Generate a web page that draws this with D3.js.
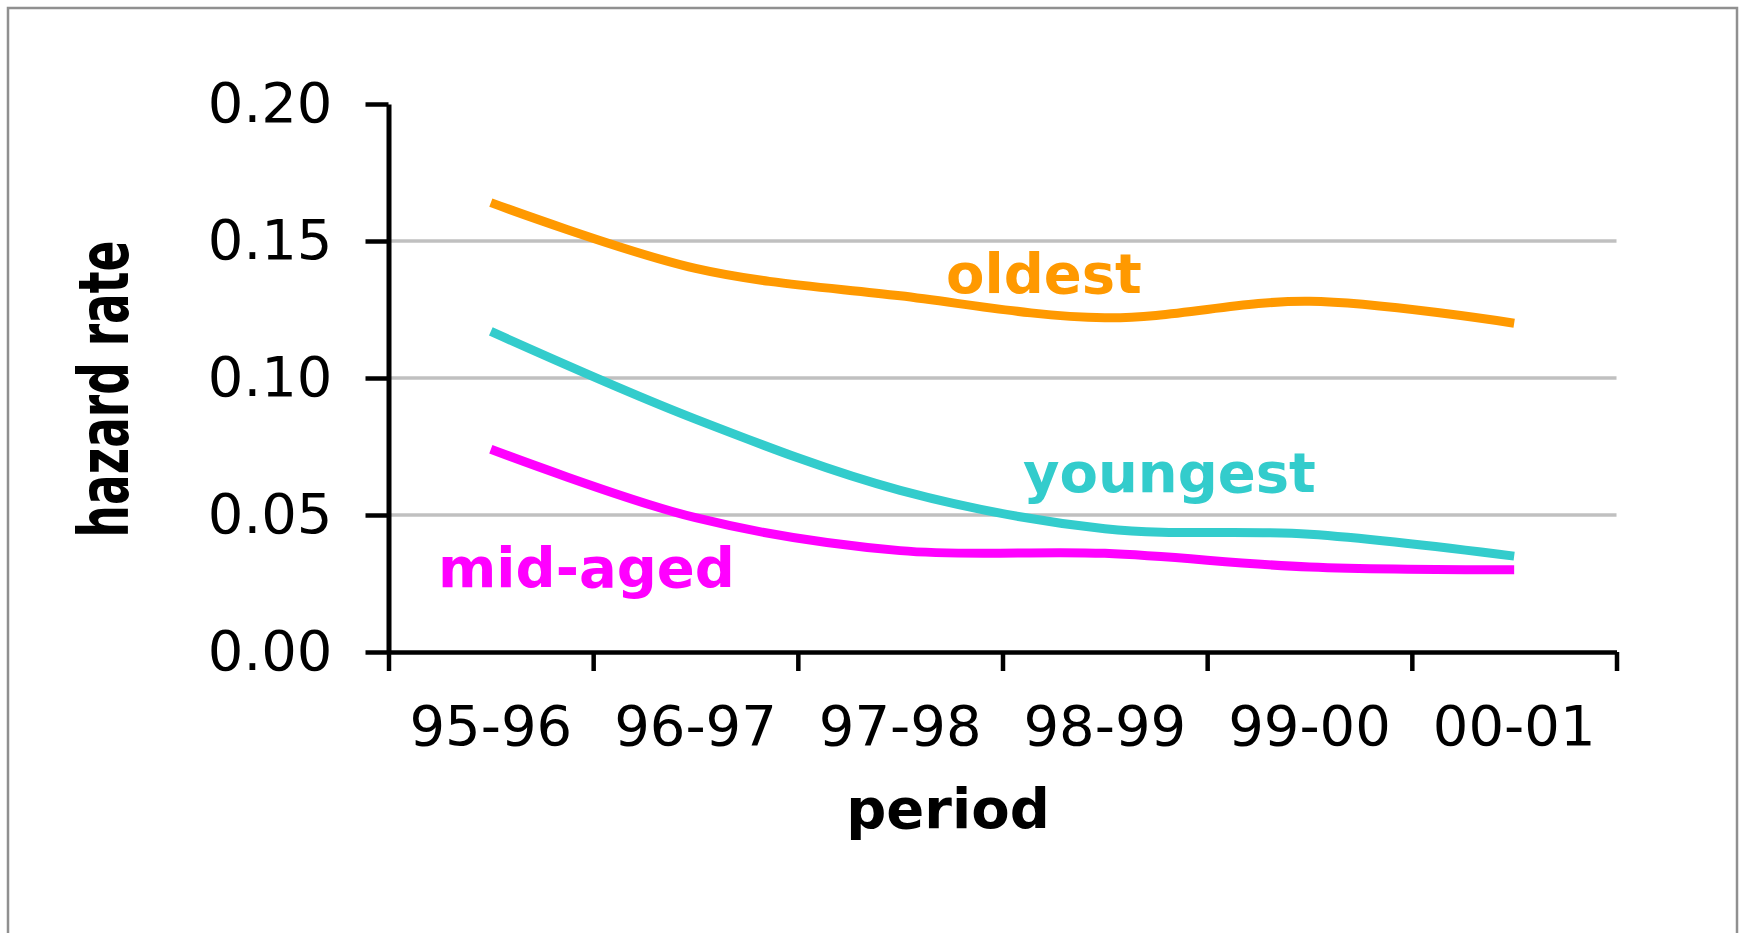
<!DOCTYPE html>
<html>
<head>
<meta charset="utf-8">
<script src="https://cdn.jsdelivr.net/npm/d3@7"></script>
<style>
  body { margin: 0; background: #fff; }
  svg { display: block; }
</style>
</head>
<body>
<script>
// DATA
const periods = ["95-96", "96-97", "97-98", "98-99", "99-00", "00-01"];
const oldest = [0.164, 0.140, 0.130, 0.122, 0.128, 0.120];
const youngest = [0.117, 0.085, 0.059, 0.045, 0.043, 0.035];
const midAged = [0.074, 0.049, 0.037, 0.036, 0.031, 0.030];
const yTicks = [0, 0.05, 0.10, 0.15, 0.20];
const gridTicks = [0.05, 0.10, 0.15];

//SIZES
const W = 1744, H = 933;
const plotLeft = 388.5, plotRight = 1616.5, plotTop = 104, plotBottom = 652;

const svg = d3.select("body").append("svg")
  .attr("width", W).attr("height", H);

//OUTER FRAME
svg.append("rect")
  .attr("x", 8).attr("y", 8)
  .attr("width", 1729).attr("height", 1000)
  .attr("fill", "#fff").attr("stroke", "#909090").attr("stroke-width", 2.5);

//SCALES
const x = d3.scaleBand().domain(periods).range([plotLeft, plotRight]).paddingInner(0).paddingOuter(0);
const xEdge = d3.scaleLinear().domain([0, periods.length]).range([plotLeft, plotRight]);
const y = d3.scaleLinear().domain([0, 0.2]).range([plotBottom, plotTop]);
const cx = d => x(d) + x.bandwidth() / 2;

//GRIDLINES
svg.append("g").selectAll("line").data(gridTicks).join("line")
  .attr("x1", plotLeft).attr("x2", plotRight)
  .attr("y1", d => y(d)).attr("y2", d => y(d))
  .attr("stroke", "#c0c0c0").attr("stroke-width", 3.5);

//Y AXIS
const yAxis = svg.append("g").attr("transform", `translate(${plotLeft},0)`)
  .call(d3.axisLeft(y).tickValues(yTicks).tickFormat(d3.format(".2f"))
    .tickSize(23).tickSizeOuter(0).tickPadding(33));
yAxis.select(".domain").attr("stroke", "#000").attr("stroke-width", 5);
yAxis.selectAll(".tick line").attr("stroke", "#000").attr("stroke-width", 4.5);
yAxis.selectAll(".tick text")
  .attr("font-family", "DejaVu Sans").attr("font-size", 56).attr("fill", "#000");

//X AXIS
const xAxis = svg.append("g").attr("transform", `translate(0,${plotBottom})`)
  .call(d3.axisBottom(xEdge).ticks(periods.length).tickFormat("")
    .tickSize(19).tickSizeOuter(0));
xAxis.select(".domain").attr("stroke", "#000").attr("stroke-width", 4.5);
xAxis.selectAll(".tick line").attr("stroke", "#000").attr("stroke-width", 4.5);

svg.append("g").selectAll("text").data(periods).join("text")
  .attr("x", d => cx(d)).attr("y", 745)
  .attr("text-anchor", "middle")
  .attr("font-family", "DejaVu Sans").attr("font-size", 56)
  .text(d => d);

//AXIS TITLES
svg.append("text")
  .attr("x", 948).attr("y", 828)
  .attr("text-anchor", "middle")
  .attr("font-family", "DejaVu Sans").attr("font-weight", "bold").attr("font-size", 56)
  .text("period");

svg.append("text")
  .attr("transform", "translate(128,389) rotate(-90) scale(0.65,1)")
  .attr("text-anchor", "middle")
  .attr("font-family", "DejaVu Sans").attr("font-weight", "bold").attr("font-size", 70)
  .text("hazard rate");

//LINES
const series = [
  { name: "oldest", values: oldest, color: "#ff9900", lx: 946, ly: 293 },
  { name: "youngest", values: youngest, color: "#33cccc", lx: 1023, ly: 492 },
  { name: "mid-aged", values: midAged, color: "#ff00ff", lx: 438, ly: 587 }
];

const line = d3.line()
  .x((d, i) => cx(periods[i]))
  .y(d => y(d))
  .curve(d3.curveCatmullRom.alpha(0));

svg.append("g").selectAll("path").data(series).join("path")
  .attr("d", s => line(s.values))
  .attr("fill", "none")
  .attr("stroke", s => s.color)
  .attr("stroke-width", 9);

svg.append("g").selectAll("text").data(series).join("text")
  .attr("x", s => s.lx).attr("y", s => s.ly)
  .attr("font-family", "DejaVu Sans").attr("font-weight", "bold").attr("font-size", 56)
  .attr("fill", s => s.color)
  .text(s => s.name);
</script>
</body>
</html>
